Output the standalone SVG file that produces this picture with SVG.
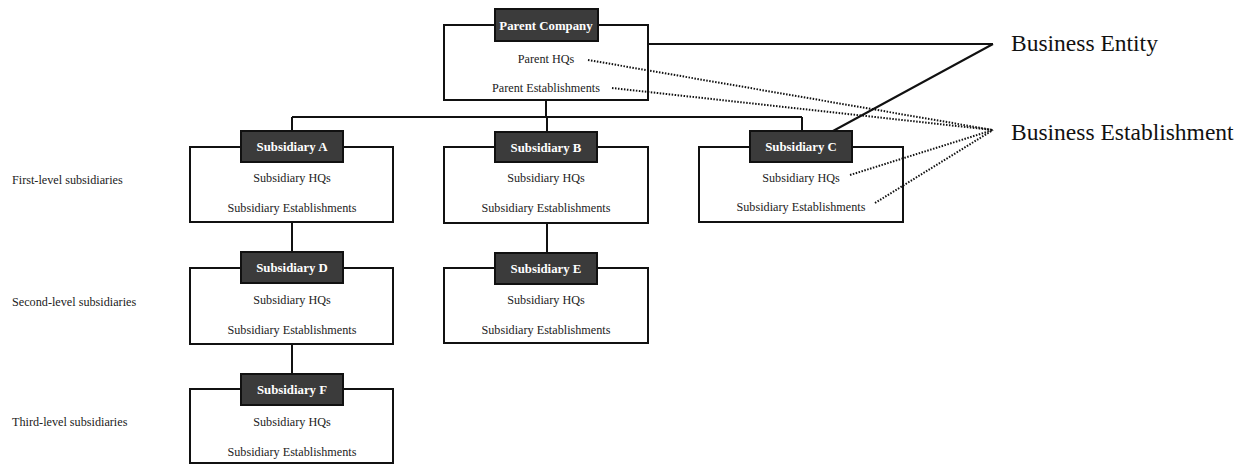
<svg xmlns="http://www.w3.org/2000/svg" width="1248" height="465" viewBox="0 0 1248 465">
<style>
.box{fill:#fff;stroke:#111;stroke-width:2}
.hdr{fill:#3b3b3b;stroke:#111;stroke-width:2}
.ht{font-family:"Liberation Serif",serif;font-weight:bold;font-size:12.8px;fill:#fff;text-anchor:middle}
.t{font-family:"Liberation Serif",serif;font-size:12.2px;fill:#222;text-anchor:middle}
.lab{font-family:"Liberation Serif",serif;font-size:12.2px;fill:#222}
.big{font-family:"Liberation Serif",serif;font-size:23.5px;fill:#111}
.ln{fill:none;stroke:#111;stroke-width:2}
.dot{fill:none;stroke:#111;stroke-width:2;stroke-dasharray:1.5 1.5}
</style>
<rect width="1248" height="465" fill="#fff"/>
<g id="parent">
<rect class="box" x="444" y="25" width="204" height="75"/>
<rect class="hdr" x="495" y="9" width="103" height="32"/>
<text class="ht" x="546" y="29.5">Parent Company</text>
<text class="t" x="546" y="63">Parent HQs</text>
<text class="t" x="546" y="92">Parent Establishments</text>
</g>
<g id="subA">
<rect class="box" x="190" y="147" width="203" height="75"/>
<rect class="hdr" x="241" y="131" width="102" height="31"/>
<text class="ht" x="292" y="151">Subsidiary A</text>
<text class="t" x="292" y="182">Subsidiary HQs</text>
<text class="t" x="292" y="212">Subsidiary Establishments</text>
</g>
<g id="subB">
<rect class="box" x="444" y="147" width="204" height="76"/>
<rect class="hdr" x="495" y="132" width="102" height="30"/>
<text class="ht" x="546" y="151.5">Subsidiary B</text>
<text class="t" x="546" y="182">Subsidiary HQs</text>
<text class="t" x="546" y="212">Subsidiary Establishments</text>
</g>
<g id="subC">
<rect class="box" x="699" y="147" width="204" height="75"/>
<rect class="hdr" x="750" y="131" width="102" height="31"/>
<text class="ht" x="801" y="151">Subsidiary C</text>
<text class="t" x="801" y="182">Subsidiary HQs</text>
<text class="t" x="801" y="211">Subsidiary Establishments</text>
</g>
<g id="subD">
<rect class="box" x="190" y="268" width="203" height="76"/>
<rect class="hdr" x="241" y="252" width="102" height="31"/>
<text class="ht" x="292" y="272">Subsidiary D</text>
<text class="t" x="292" y="304">Subsidiary HQs</text>
<text class="t" x="292" y="334">Subsidiary Establishments</text>
</g>
<g id="subE">
<rect class="box" x="444" y="268" width="204" height="75"/>
<rect class="hdr" x="495" y="253" width="102" height="31"/>
<text class="ht" x="546" y="273">Subsidiary E</text>
<text class="t" x="546" y="304">Subsidiary HQs</text>
<text class="t" x="546" y="334">Subsidiary Establishments</text>
</g>
<g id="subF">
<rect class="box" x="190" y="389" width="203" height="74"/>
<rect class="hdr" x="241" y="374" width="102" height="31"/>
<text class="ht" x="292" y="394">Subsidiary F</text>
<text class="t" x="292" y="426">Subsidiary HQs</text>
<text class="t" x="292" y="456">Subsidiary Establishments</text>
</g>
<g id="levels">
<text class="lab" x="12" y="184">First-level subsidiaries</text>
<text class="lab" x="12" y="306">Second-level subsidiaries</text>
<text class="lab" x="12" y="426">Third-level subsidiaries</text>
</g>
<g id="legend">
<text class="big" x="1011" y="51">Business Entity</text>
<text class="big" x="1011" y="140">Business Establishment</text>
</g>
<g id="connectors">
<path class="ln" d="M546 100V117M292 117H802M292 117V131M547 117V132M802 117V131M292 222V252M292 344V374M547 223V253"/>
<path class="ln" d="M648 44H993M833 131L993 44"/>
<path class="dot" d="M588 60L993 130M612 88L993 130M850 175L993 130M875 203L993 130"/>
</g>
</svg>
